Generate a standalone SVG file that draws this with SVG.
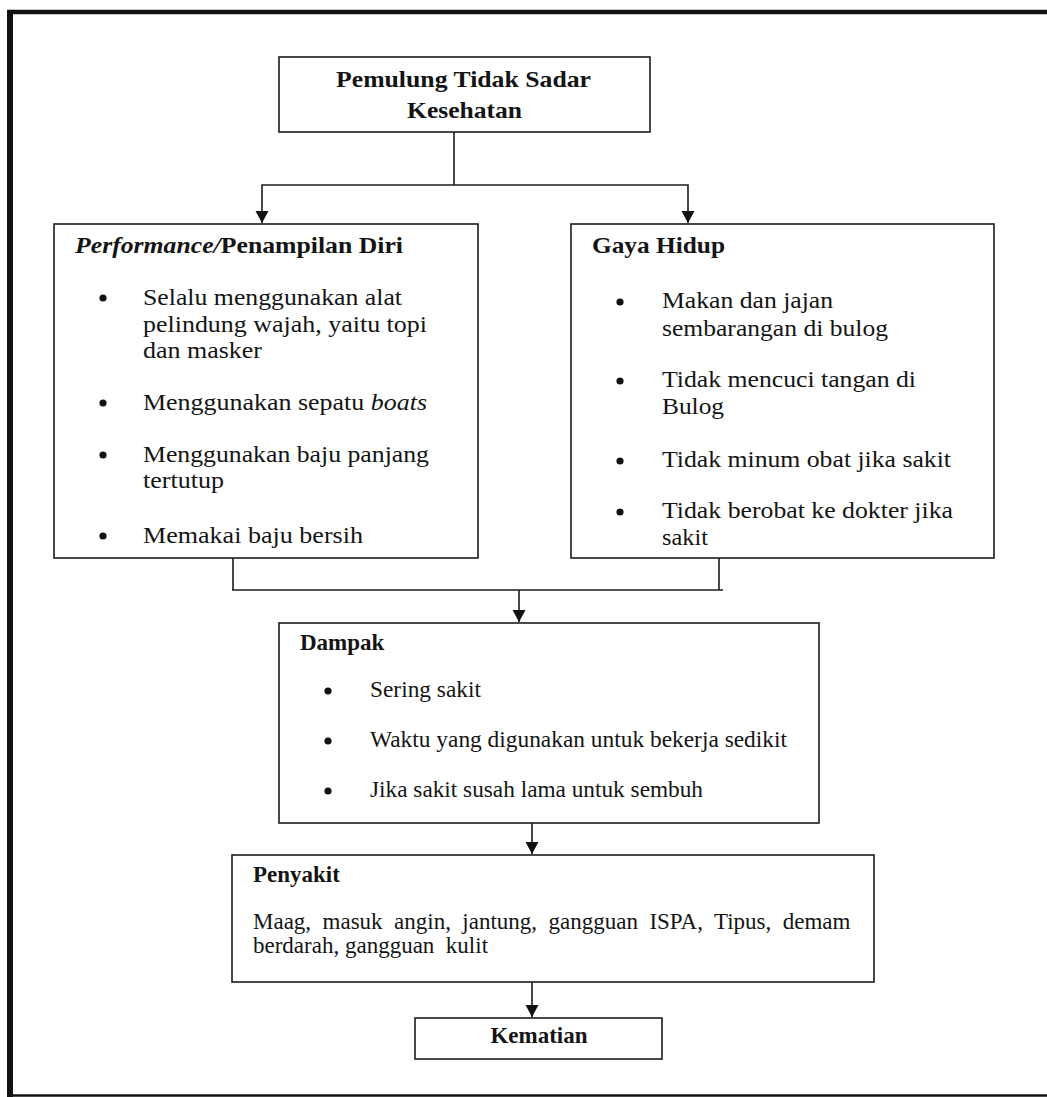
<svg xmlns="http://www.w3.org/2000/svg" width="1047" height="1097" viewBox="0 0 1047 1097">
<style>
.box{fill:#fff;stroke:#1c1c1c;stroke-width:1.6}
.con{fill:none;stroke:#1c1c1c;stroke-width:1.6}
.t{font-family:"Liberation Serif","Times New Roman",serif;font-size:23px;fill:#141414}
.b{font-weight:bold}
.i{font-style:italic}
.dot{fill:#111}
</style>
<defs>
<marker id="ah" markerUnits="userSpaceOnUse" markerWidth="12" markerHeight="13" viewBox="0 0 12 13" refX="12" refY="6.5" orient="auto" overflow="visible">
<path d="M0,0 L12,6.5 L0,13 z" fill="#111"/>
</marker>
</defs>
<rect width="1047" height="1097" fill="#fff"/>
<g id="frame" stroke="#111" fill="none">
<line x1="7" y1="12" x2="1047" y2="12" stroke-width="4.5"/>
<line x1="10" y1="10" x2="10" y2="1097" stroke-width="6"/>
<line x1="7" y1="1095.5" x2="1047" y2="1095.5" stroke-width="2.5"/>
</g>
<g id="connectors">
<path class="con" d="M454,132 V185"/>
<path class="con" d="M454,185 H262 V223" marker-end="url(#ah)"/>
<path class="con" d="M454,185 H688 V223" marker-end="url(#ah)"/>
<path class="con" d="M233,558 V590"/>
<path class="con" d="M719,558 V590"/>
<path class="con" d="M232,590 H723" stroke-width="2.4"/>
<path class="con" d="M519,590 V622" marker-end="url(#ah)"/>
<path class="con" d="M532,823 V854" marker-end="url(#ah)"/>
<path class="con" d="M532,982 V1017" marker-end="url(#ah)"/>
</g>
<g id="node-top">
<rect class="box" x="279" y="57" width="371" height="75"/>
<text class="t b" x="336" y="87" textLength="255" lengthAdjust="spacingAndGlyphs">Pemulung Tidak Sadar</text>
<text class="t b" x="407" y="118" textLength="115" lengthAdjust="spacingAndGlyphs">Kesehatan</text>
</g>
<g id="node-penampilan">
<rect class="box" x="54" y="224" width="424" height="334"/>
<text class="t b" x="75" y="253" textLength="328" lengthAdjust="spacingAndGlyphs"><tspan class="i">Performance/</tspan>Penampilan Diri</text>
<circle class="dot" cx="103" cy="298" r="3.6"/>
<circle class="dot" cx="103" cy="403" r="3.6"/>
<circle class="dot" cx="103" cy="455" r="3.6"/>
<circle class="dot" cx="103" cy="536" r="3.6"/>
<text class="t" x="143" y="305" textLength="259" lengthAdjust="spacingAndGlyphs">Selalu menggunakan alat</text>
<text class="t" x="143" y="332" textLength="284" lengthAdjust="spacingAndGlyphs">pelindung wajah, yaitu topi</text>
<text class="t" x="143" y="358" textLength="119" lengthAdjust="spacingAndGlyphs">dan masker</text>
<text class="t" x="143" y="410" textLength="284" lengthAdjust="spacingAndGlyphs">Menggunakan sepatu <tspan class="i">boats</tspan></text>
<text class="t" x="143" y="462" textLength="286" lengthAdjust="spacingAndGlyphs">Menggunakan baju panjang</text>
<text class="t" x="143" y="488" textLength="81" lengthAdjust="spacingAndGlyphs">tertutup</text>
<text class="t" x="143" y="543" textLength="220" lengthAdjust="spacingAndGlyphs">Memakai baju bersih</text>
</g>
<g id="node-gaya-hidup">
<rect class="box" x="571" y="224" width="423" height="334"/>
<text class="t b" x="592" y="253" textLength="133" lengthAdjust="spacingAndGlyphs">Gaya Hidup</text>
<circle class="dot" cx="620" cy="302" r="3.6"/>
<circle class="dot" cx="620" cy="381" r="3.6"/>
<circle class="dot" cx="620" cy="461" r="3.6"/>
<circle class="dot" cx="620" cy="512" r="3.6"/>
<text class="t" x="662" y="308" textLength="171" lengthAdjust="spacingAndGlyphs">Makan dan jajan</text>
<text class="t" x="662" y="336" textLength="226" lengthAdjust="spacingAndGlyphs">sembarangan di bulog</text>
<text class="t" x="662" y="387" textLength="254" lengthAdjust="spacingAndGlyphs">Tidak mencuci tangan di</text>
<text class="t" x="662" y="414" textLength="62" lengthAdjust="spacingAndGlyphs">Bulog</text>
<text class="t" x="662" y="467" textLength="289" lengthAdjust="spacingAndGlyphs">Tidak minum obat jika sakit</text>
<text class="t" x="662" y="518" textLength="291" lengthAdjust="spacingAndGlyphs">Tidak berobat ke dokter jika</text>
<text class="t" x="662" y="545" textLength="46" lengthAdjust="spacingAndGlyphs">sakit</text>
</g>
<g id="node-dampak">
<rect class="box" x="279" y="623" width="540" height="200"/>
<text class="t b" x="300" y="650">Dampak</text>
<circle class="dot" cx="328" cy="691" r="3.6"/>
<circle class="dot" cx="328" cy="741" r="3.6"/>
<circle class="dot" cx="328" cy="791" r="3.6"/>
<text class="t" x="370" y="697" textLength="111" lengthAdjust="spacingAndGlyphs">Sering sakit</text>
<text class="t" x="370" y="747" textLength="417" lengthAdjust="spacingAndGlyphs">Waktu yang digunakan untuk bekerja sedikit</text>
<text class="t" x="370" y="797" textLength="333" lengthAdjust="spacingAndGlyphs">Jika sakit susah lama untuk sembuh</text>
</g>
<g id="node-penyakit">
<rect class="box" x="232" y="855" width="642" height="127"/>
<text class="t b" x="253" y="882">Penyakit</text>
<text class="t" x="253" y="929" word-spacing="5.7">Maag, masuk angin, jantung, gangguan ISPA, Tipus, demam</text>
<text class="t" x="253" y="953" xml:space="preserve" style="white-space:pre">berdarah, gangguan  kulit</text>
</g>
<g id="node-kematian">
<rect class="box" x="415" y="1018" width="247" height="41"/>
<text class="t b" x="539" y="1043" text-anchor="middle">Kematian</text>
</g>
</svg>
